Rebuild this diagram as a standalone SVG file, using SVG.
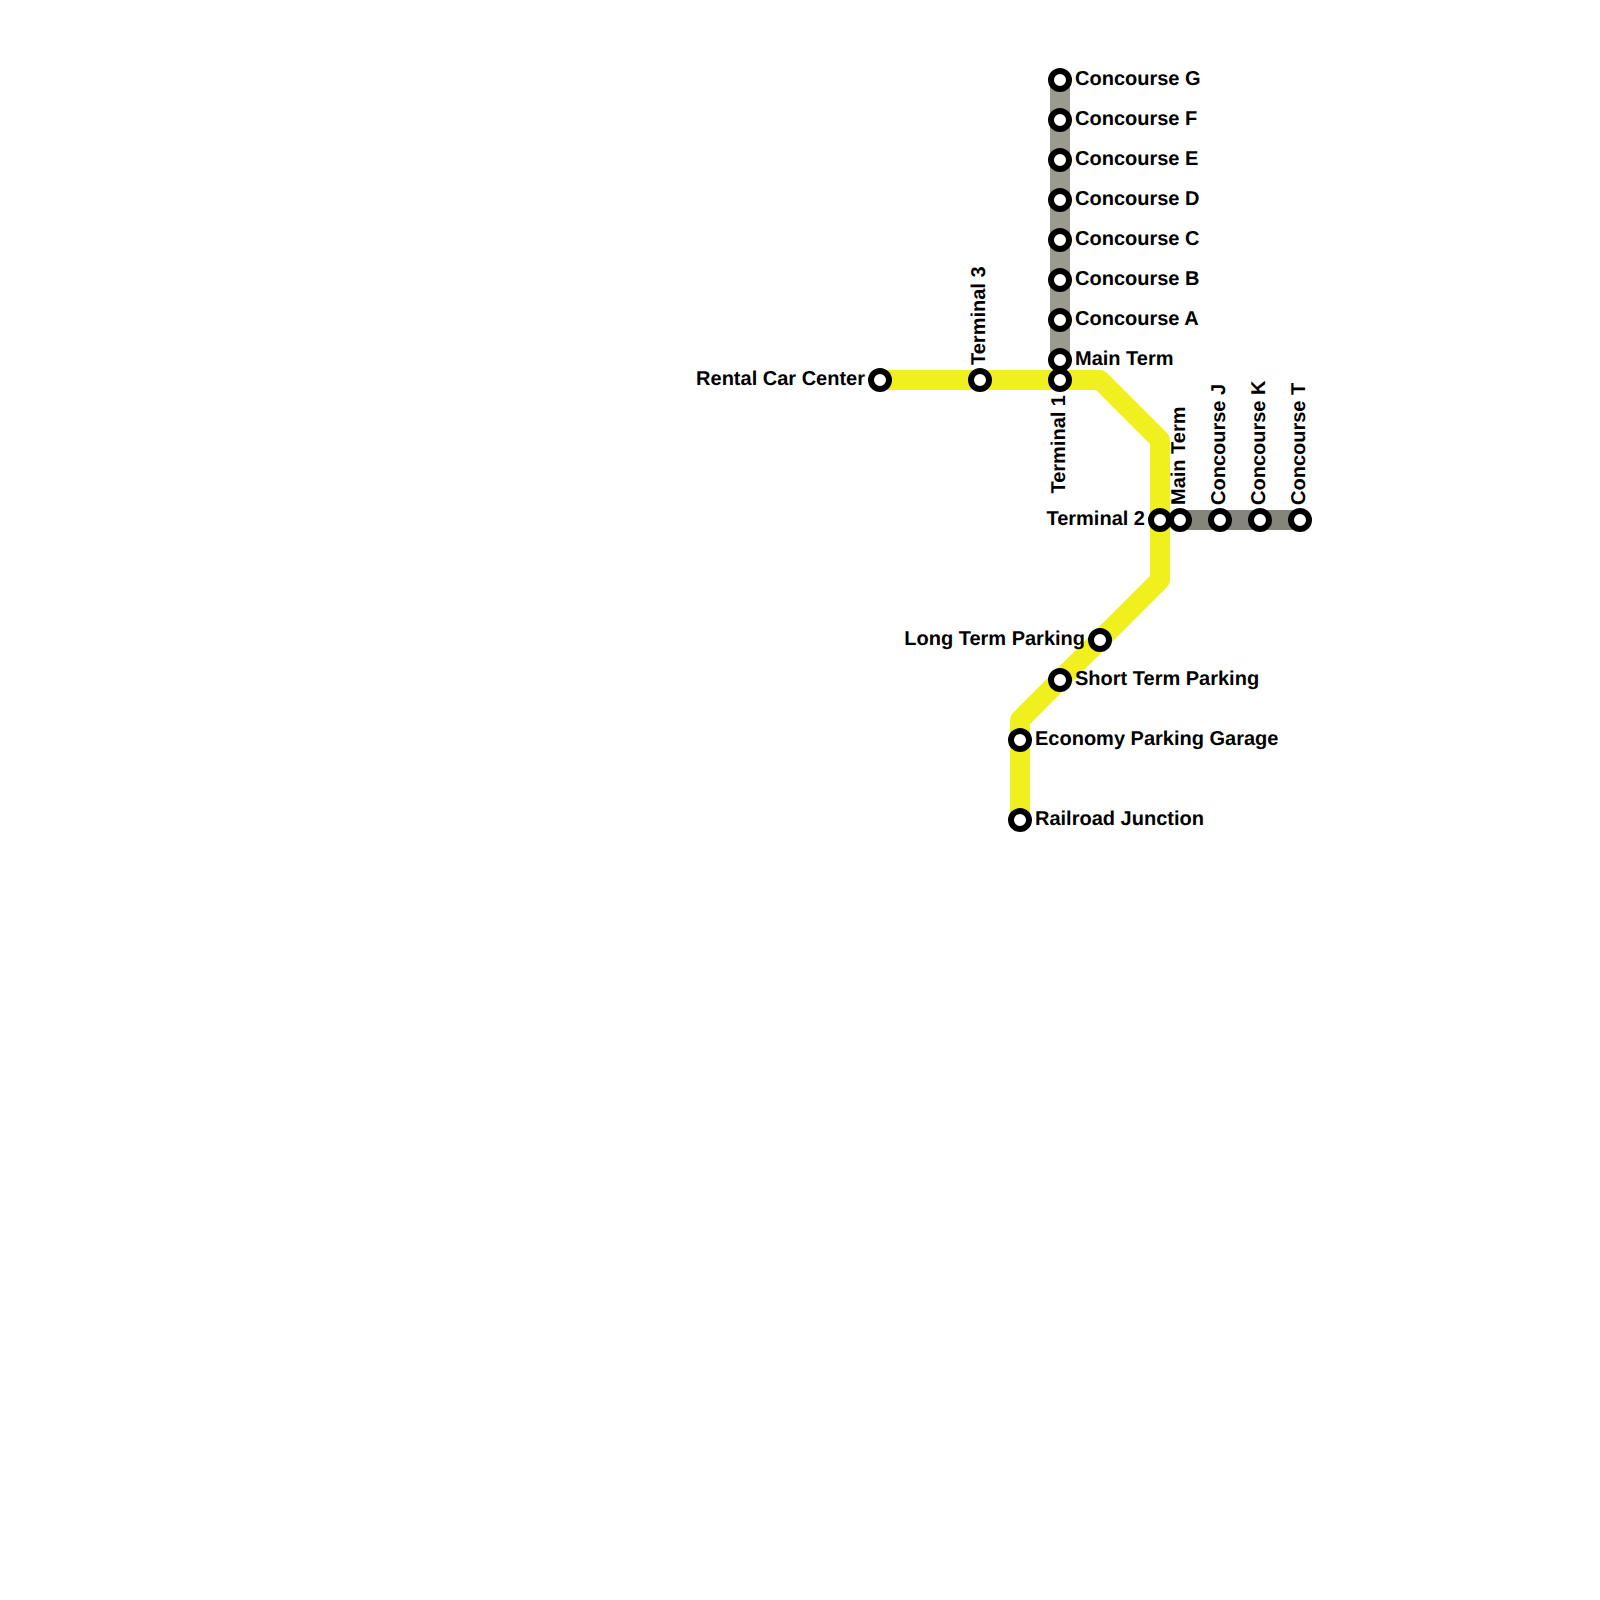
<svg xmlns="http://www.w3.org/2000/svg" width="1600" height="1600" viewBox="0 0 1600 1600">
<style>
.l{fill:none;stroke-width:20;stroke-linejoin:round;stroke-linecap:butt}
.s{fill:#fff;stroke:#000;stroke-width:6}
text{font-family:"Liberation Sans",Arial,sans-serif;font-weight:700;font-size:20px;fill:#000;text-rendering:geometricPrecision}
.e{text-anchor:end}
</style>
<rect width="1600" height="1600" fill="#fff"/>
<g id="connectors">
<path class="l" stroke="#9a9a8e" d="M1060 80V360"/>
<path class="l" stroke="#85857b" d="M1180 520H1300"/>
<path class="l" stroke="#f0f01e" d="M880 380H1100L1160 440V580L1020 720V820"/>
</g>
<g id="concourse-g"><circle class="s" cx="1060" cy="80" r="9"/><text x="1075" y="85">Concourse G</text></g>
<g id="concourse-f"><circle class="s" cx="1060" cy="120" r="9"/><text x="1075" y="125">Concourse F</text></g>
<g id="concourse-e"><circle class="s" cx="1060" cy="160" r="9"/><text x="1075" y="165">Concourse E</text></g>
<g id="concourse-d"><circle class="s" cx="1060" cy="200" r="9"/><text x="1075" y="205">Concourse D</text></g>
<g id="concourse-c"><circle class="s" cx="1060" cy="240" r="9"/><text x="1075" y="245">Concourse C</text></g>
<g id="concourse-b"><circle class="s" cx="1060" cy="280" r="9"/><text x="1075" y="285">Concourse B</text></g>
<g id="concourse-a"><circle class="s" cx="1060" cy="320" r="9"/><text x="1075" y="325">Concourse A</text></g>
<g id="main-term-a"><circle class="s" cx="1060" cy="360" r="9"/><text x="1075" y="365">Main Term</text></g>
<g id="terminal-1"><circle class="s" cx="1060" cy="380" r="9"/><text transform="translate(1065 395) rotate(-90)" class="e">Terminal 1</text></g>
<g id="rental-car-center"><circle class="s" cx="880" cy="380" r="9"/><text x="865" y="385" class="e">Rental Car Center</text></g>
<g id="terminal-3"><circle class="s" cx="980" cy="380" r="9"/><text transform="translate(985 365) rotate(-90)">Terminal 3</text></g>
<g id="terminal-2"><circle class="s" cx="1160" cy="520" r="9"/><text x="1145" y="525" class="e">Terminal 2</text></g>
<g id="main-term-b"><circle class="s" cx="1180" cy="520" r="9"/><text transform="translate(1185 505) rotate(-90)">Main Term</text></g>
<g id="concourse-j"><circle class="s" cx="1220" cy="520" r="9"/><text transform="translate(1225 505) rotate(-90)">Concourse J</text></g>
<g id="concourse-k"><circle class="s" cx="1260" cy="520" r="9"/><text transform="translate(1265 505) rotate(-90)">Concourse K</text></g>
<g id="concourse-t"><circle class="s" cx="1300" cy="520" r="9"/><text transform="translate(1305 505) rotate(-90)">Concourse T</text></g>
<g id="long-term-parking"><circle class="s" cx="1100" cy="640" r="9"/><text x="1085" y="645" class="e">Long Term Parking</text></g>
<g id="short-term-parking"><circle class="s" cx="1060" cy="680" r="9"/><text x="1075" y="685">Short Term Parking</text></g>
<g id="economy-parking-garage"><circle class="s" cx="1020" cy="740" r="9"/><text x="1035" y="745">Economy Parking Garage</text></g>
<g id="railroad-junction"><circle class="s" cx="1020" cy="820" r="9"/><text x="1035" y="825">Railroad Junction</text></g>
</svg>
